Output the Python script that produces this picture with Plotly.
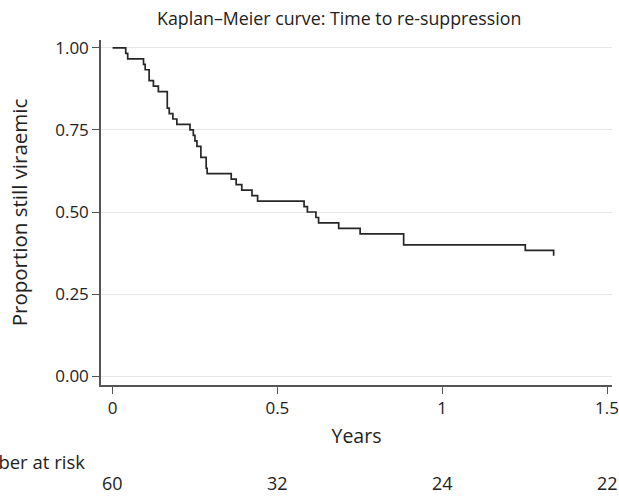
import plotly.graph_objects as go

# Kaplan-Meier step data
event_times = [0, 0.040, 0.046, 0.094, 0.099, 0.111, 0.124, 0.139, 0.166, 0.172,
               0.183, 0.195, 0.235, 0.245, 0.250, 0.256, 0.268, 0.284, 0.287,
               0.360, 0.375, 0.392, 0.423, 0.440, 0.581, 0.591, 0.617, 0.625,
               0.686, 0.751, 0.883, 1.252, 1.338]
proportion = [1.0, 0.9833, 0.9667, 0.95, 0.9333, 0.9, 0.8833, 0.8667, 0.8167, 0.8,
              0.7833, 0.7667, 0.75, 0.7333, 0.7167, 0.7, 0.6667, 0.6333, 0.6167,
              0.6, 0.5833, 0.5667, 0.55, 0.5333, 0.5167, 0.5, 0.4833, 0.4667,
              0.45, 0.4333, 0.4, 0.3833, 0.3667]

risk_times = [0, 0.5, 1, 1.5]
number_at_risk = [60, 32, 24, 22]

x_ticks = [0, 0.5, 1, 1.5]
x_tick_labels = ["0", "0.5", "1", "1.5"]
y_ticks = [0, 0.25, 0.5, 0.75, 1.0]
y_tick_labels = ["0.00", "0.25", "0.50", "0.75", "1.00"]

FONT = "Open Sans"
TXT = "#222222"
AX = "#555555"

fig = go.Figure()
fig.add_trace(go.Scatter(
    x=event_times, y=proportion, mode="lines", line_shape="hv",
    line=dict(color="#262626", width=1.7), showlegend=False, hoverinfo="x+y"))

for t, n in zip(risk_times, number_at_risk):
    fig.add_annotation(x=t, xref="x", y=-0.283, yref="paper", text=str(n),
                       showarrow=False, xanchor="center", yanchor="middle",
                       font=dict(family=FONT, size=18, color=TXT))

fig.add_annotation(x=-0.028, xref="paper", y=-0.221, yref="paper", text="Number at risk",
                   showarrow=False, xanchor="right", yanchor="middle",
                   font=dict(family=FONT, size=18.5, color=TXT))

fig.update_layout(
    width=619, height=496,
    margin=dict(l=101, r=7, t=40, b=111, autoexpand=False),
    paper_bgcolor="white", plot_bgcolor="white",
    font=dict(family=FONT, size=17, color=TXT),
    title=dict(text="Kaplan\u2013Meier curve: Time to re-suppression", x=0.548,
               xref="container", xanchor="center", y=0.963, yanchor="middle",
               font=dict(family=FONT, size=17.8, color=TXT)),
    xaxis=dict(range=[-0.035, 1.515], tickvals=x_ticks, ticktext=x_tick_labels,
               showgrid=False, zeroline=False, showline=True, linecolor=AX,
               linewidth=1.5, ticks="outside", ticklen=7, tickwidth=1.2,
               tickcolor=AX, automargin=False, tickfont=dict(size=17),
               ticklabeloverflow="allow",
               title=dict(text="Years", standoff=11, font=dict(size=19.5))),
    yaxis=dict(range=[-0.027, 1.024], tickvals=y_ticks, ticktext=y_tick_labels,
               showgrid=True, gridcolor="#e8e8e8", gridwidth=1, zeroline=False,
               showline=True, linecolor=AX, linewidth=1.5, ticks="outside",
               ticklen=7, tickwidth=1.2, tickcolor=AX, automargin=False,
               tickfont=dict(size=17),
               title=dict(text="Proportion still viraemic", standoff=22,
                          font=dict(size=20.5))),
)

fig.write_html("out.html", config={"displayModeBar": False},
               post_script="document.body.style.margin='0';")
